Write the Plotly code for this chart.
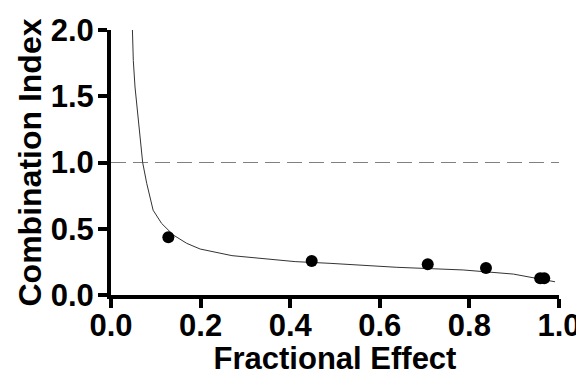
import plotly.graph_objects as go

# Data points (fractional effect, combination index)
fa_points = [0.128, 0.448, 0.707, 0.837, 0.958, 0.967]
ci_points = [0.435, 0.257, 0.232, 0.204, 0.126, 0.126]

# Fitted curve
fa_curve = [0.0475, 0.0498, 0.0536, 0.0587, 0.0647, 0.0707, 0.0797, 0.094, 0.113,
            0.139, 0.169, 0.199, 0.27, 0.411, 0.489, 0.638, 0.786, 0.898, 0.991]
ci_curve = [2.04, 1.77, 1.57, 1.40, 1.17, 1.00, 0.843, 0.64, 0.54,
            0.453, 0.39, 0.347, 0.297, 0.252, 0.239, 0.209, 0.189, 0.158, 0.100]

# Reference line
ref_ci = 1.0

x_ticks = [0.0, 0.2, 0.4, 0.6, 0.8, 1.0]
y_ticks = [0.0, 0.5, 1.0, 1.5, 2.0]

fig = go.Figure()
fig.add_shape(type="line", xref="x", yref="y", x0=0, x1=1, y0=ref_ci, y1=ref_ci,
              line=dict(color="#808080", width=1.2, dash="15px,7px"), layer="below")
fig.add_trace(go.Scatter(x=fa_curve, y=ci_curve, mode="lines",
                         line=dict(color="#333333", width=1),
                         showlegend=False, hoverinfo="skip"))
fig.add_trace(go.Scatter(x=fa_points, y=ci_points, mode="markers",
                         marker=dict(color="black", size=12),
                         showlegend=False, cliponaxis=False))

font_family = "Liberation Sans, Arial, sans-serif"
fig.update_layout(
    width=576, height=368,
    margin=dict(l=103, r=25, t=22, b=81),
    paper_bgcolor="white", plot_bgcolor="white",
    font=dict(family=font_family, color="black"),
    xaxis=dict(range=[0, 1.0], tickvals=x_ticks, tickformat=".1f", automargin=False,
               showgrid=False, zeroline=False, showline=True, linecolor="black",
               linewidth=4, ticks="outside", ticklen=9, tickwidth=4, tickcolor="black",
               ticklabelstandoff=-9,
               tickfont=dict(size=31, family=font_family, weight="bold"),
               title=dict(text="<b>Fractional Effect</b>", font=dict(size=31),
                          standoff=7)),
    yaxis=dict(range=[0, 2.0], tickvals=y_ticks, tickformat=".1f", automargin=False,
               showgrid=False, zeroline=False, showline=True, linecolor="black",
               linewidth=4, ticks="outside", ticklen=9, tickwidth=4, tickcolor="black",
               ticklabelstandoff=-2,
               tickfont=dict(size=31, family=font_family, weight="bold"),
               title=dict(text="<b>Combination Index</b>", font=dict(size=32),
                          standoff=0)),
)

fig.write_html("out.html")
